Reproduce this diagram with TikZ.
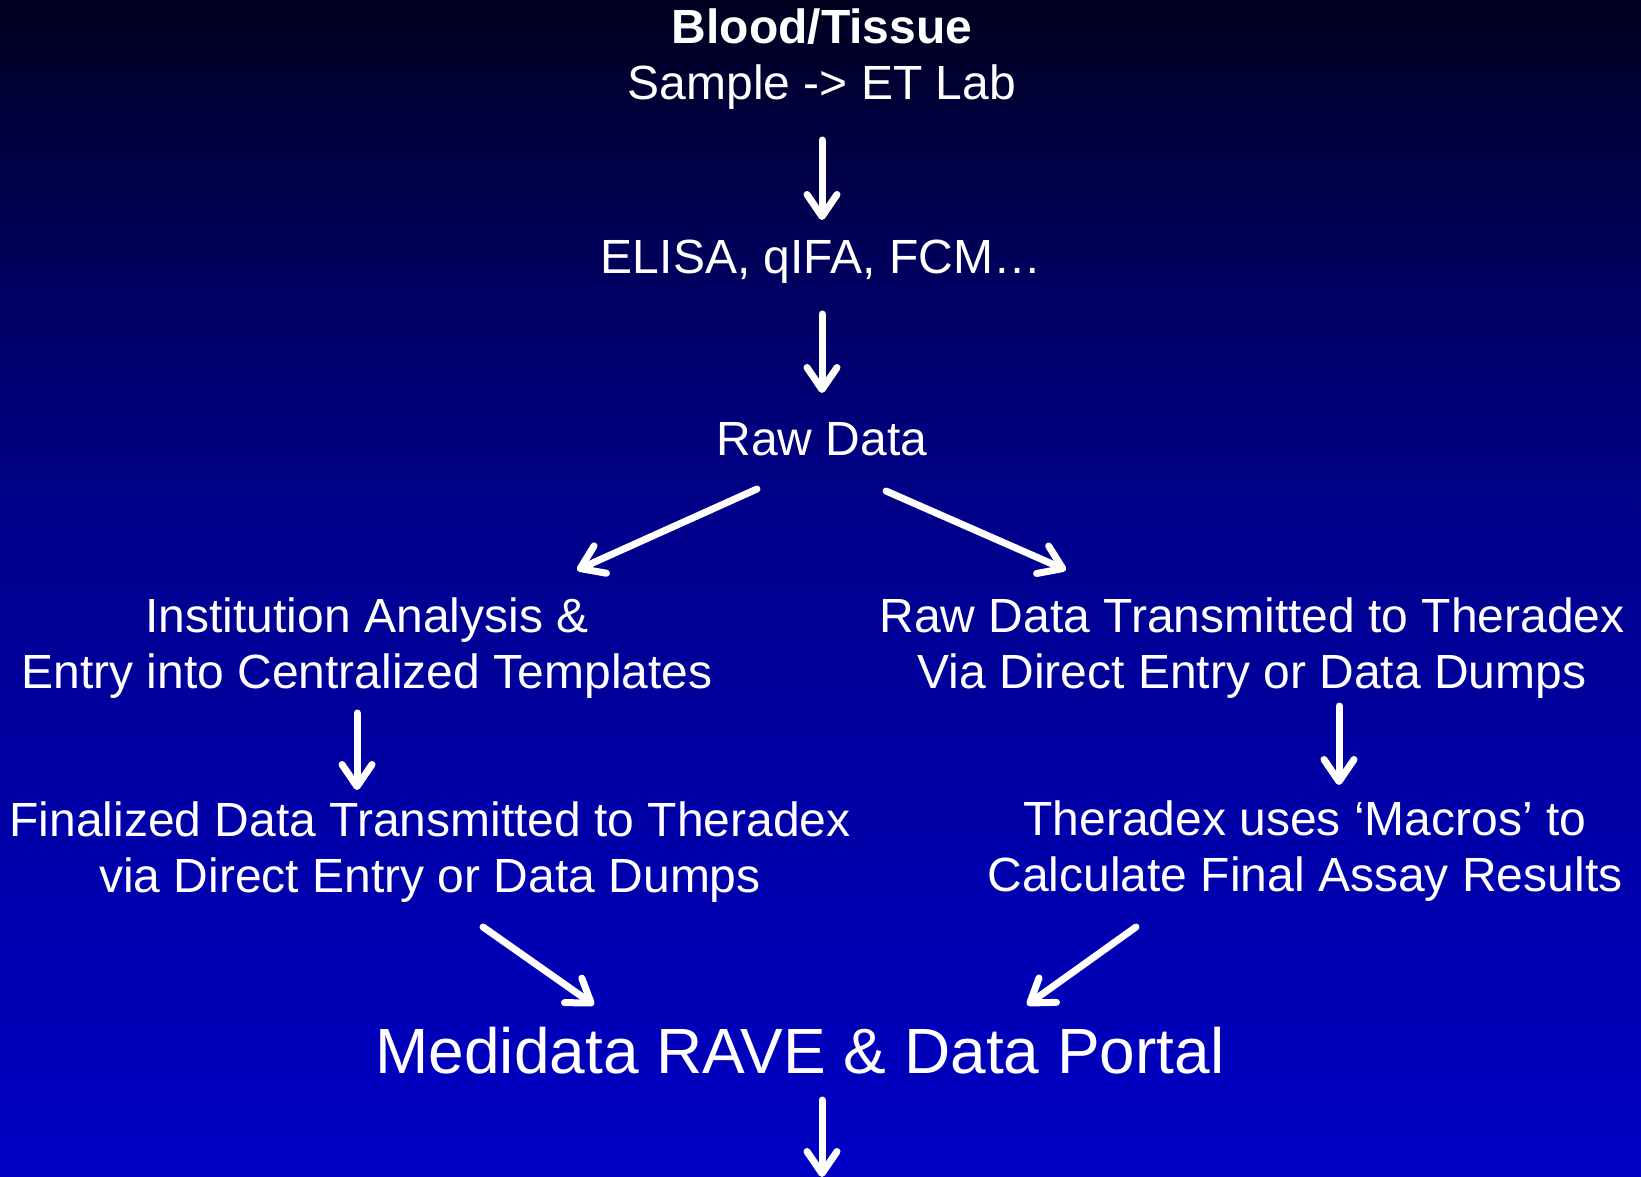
\documentclass[tikz,border=0pt]{standalone}
\usepackage{fontspec}
\setmainfont{Liberation Sans}
\usetikzlibrary{arrows.meta}
\definecolor{bgA}{RGB}{0,0,30}
\definecolor{bgB}{RGB}{0,0,60}
\definecolor{bgC}{RGB}{0,0,110}
\definecolor{bgD}{RGB}{0,0,140}
\definecolor{bgE}{RGB}{0,0,170}
\definecolor{bgF}{RGB}{0,0,196}
\pgfdeclareverticalshading{bgshade}{100bp}{color(0bp)=(bgF); color(25bp)=(bgF); color(38.9bp)=(bgE); color(52.5bp)=(bgD); color(60.1bp)=(bgC); color(69.9bp)=(bgB); color(75bp)=(bgA); color(100bp)=(bgA)}
\tikzset{
  lbl/.style={text=white, align=center, inner sep=0pt, anchor=base,
    font=\fontsize{48}{56}\selectfont},
  biglbl/.style={lbl, font=\fontsize{64}{72}\selectfont},
  flow/.style={draw=white, line width=7pt, line cap=round,
    -{Straight Barb[length=22pt,width=30pt,round]}},
}
\begin{document}
\begin{tikzpicture}[x=1pt,y=-1pt]
\useasboundingbox (0,0) rectangle (1641,1177);
\shade[shading=bgshade] (0,0) rectangle (1641,1177);

% base anchor = baseline of the last line
\node[lbl] (blood) at (822,100) {\textbf{Blood/Tissue}\\Sample -> ET Lab};
\node[lbl] (elisa) at (821,273) {ELISA, qIFA, FCM…};
\node[lbl] (raw) at (822,455) {Raw Data};
\node[lbl] (inst) at (367,688) {Institution Analysis \&\\Entry into Centralized Templates};
\node[lbl] (rawt) at (1252,688) {Raw Data Transmitted to Theradex\\Via Direct Entry or Data Dumps};
\node[lbl] (fin) at (430,892) {Finalized Data Transmitted to Theradex\\via Direct Entry or Data Dumps};
\node[lbl] (thx) at (1305,891) {Theradex uses ‘Macros’ to\\Calculate Final Assay Results};
\node[biglbl] (medi) at (800,1073) {Medidata RAVE \& Data Portal};

\coordinate (a1s) at (822,140);  \coordinate (a1e) at (822,220);
\coordinate (a2s) at (822,314);  \coordinate (a2e) at (822,393);
\coordinate (a3s) at (757,489);  \coordinate (a3e) at (577,570);
\coordinate (a4s) at (886,491);  \coordinate (a4e) at (1066,570);
\coordinate (a5s) at (357,713);  \coordinate (a5e) at (357,790);
\coordinate (a6s) at (1339,706); \coordinate (a6e) at (1339,785);
\coordinate (a7s) at (483,927);  \coordinate (a7e) at (594,1005);
\coordinate (a8s) at (1136,927); \coordinate (a8e) at (1027,1005);
\coordinate (a9s) at (822,1100); \coordinate (a9e) at (822,1177);

\draw[flow] (a1s) -- (a1e);
\draw[flow] (a2s) -- (a2e);
\draw[flow] (a3s) -- (a3e);
\draw[flow] (a4s) -- (a4e);
\draw[flow] (a5s) -- (a5e);
\draw[flow] (a6s) -- (a6e);
\draw[flow] (a7s) -- (a7e);
\draw[flow] (a8s) -- (a8e);
\draw[flow] (a9s) -- (a9e);
\end{tikzpicture}
\end{document}
